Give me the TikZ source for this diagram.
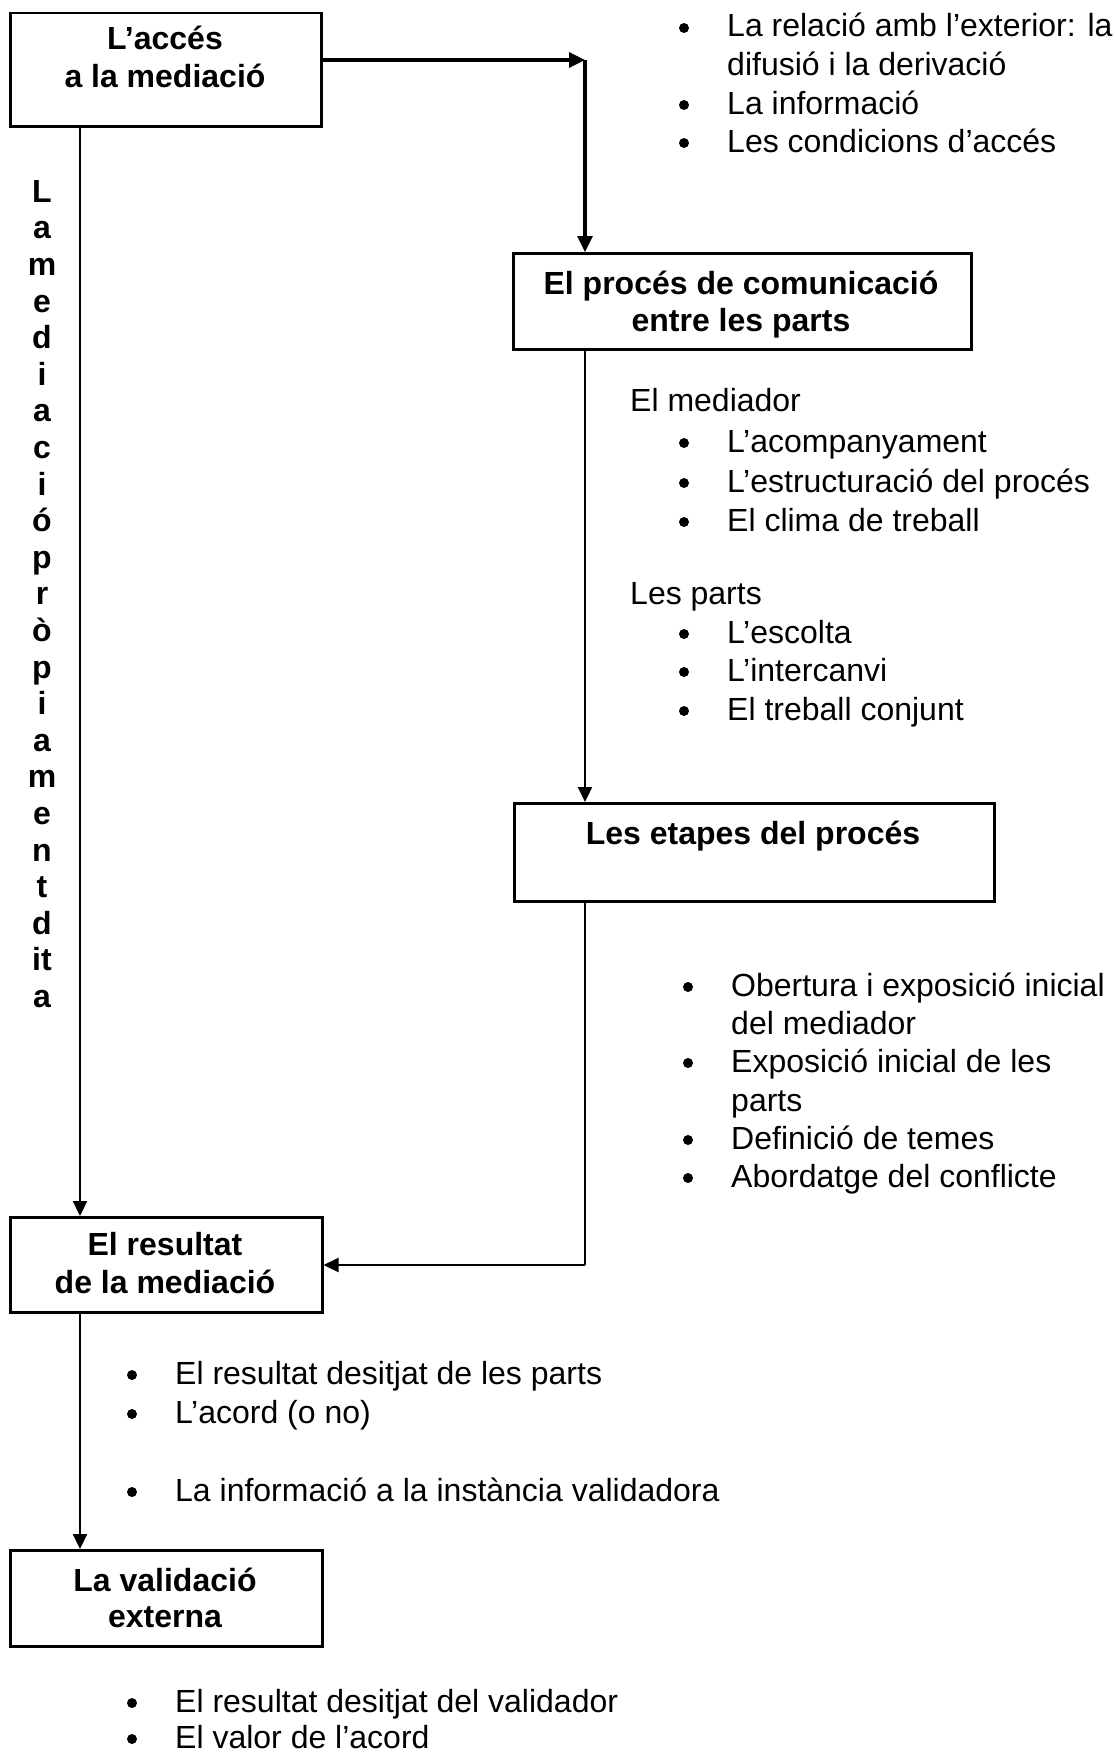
\documentclass[tikz,border=0pt]{standalone}
\usepackage{fontspec}
\setmainfont{Liberation Sans}
\usetikzlibrary{arrows.meta}
\begin{document}
\begin{tikzpicture}[x=1pt,y=-1pt,
  box/.style={draw, line width=2.5pt, inner sep=0pt, anchor=north west},
  ttl/.style={font=\fontsize{32}{37}\selectfont\bfseries, anchor=base, inner sep=0pt},
  txt/.style={font=\fontsize{32}{37}\selectfont, anchor=base west, inner sep=0pt},
  vtxt/.style={font=\fontsize{32}{36.6}\selectfont\bfseries, align=center, anchor=north, inner sep=0pt},
  arr/.style={line width=2.2pt, -{Triangle[length=15pt,width=14pt]}},
  thk/.style={line width=3.2pt, -{Triangle[length=16pt,width=15pt]}},
  conn/.style={line width=2.2pt},
]
\useasboundingbox (0,0) rectangle (1114,1753);

% boxes
\node[box, minimum width=311pt, minimum height=113pt] (b1) at (9,12) {};
\node[box, minimum width=458pt, minimum height=96pt] (b2) at (512,252) {};
\node[box, minimum width=480pt, minimum height=98pt] (b3) at (513,802) {};
\node[box, minimum width=312pt, minimum height=95pt] (b4) at (9,1216) {};
\node[box, minimum width=312pt, minimum height=96pt] (b5) at (9,1549) {};

% box titles
\node[ttl] (b1a) at (165,50) {L’accés};
\node[ttl] (b1b) at (165,87) {a la mediació};
\node[ttl] (b2a) at (741,294) {El procés de comunicació};
\node[ttl] (b2b) at (741,331) {entre les parts};
\node[ttl] (b3a) at (753,844) {Les etapes del procés};
\node[ttl] (b4a) at (165,1255) {El resultat};
\node[ttl] (b4b) at (165,1293) {de la mediació};
\node[ttl] (b5a) at (165,1591) {La validació};
\node[ttl] (b5b) at (165,1627) {externa};

% vertical label
\node[vtxt] (vl) at (42,180) {L\\a\\m\\e\\d\\i\\a\\c\\i\\ó\\p\\r\\ò\\p\\i\\a\\m\\e\\n\\t\\d\\it\\a};

% top list
\node[txt] (l1) at (727,37) {La relació amb l’exterior: la};
\node[txt] (l2) at (727,76) {difusió i la derivació};
\node[txt] (l3) at (727,114) {La informació};
\node[txt] (l4) at (727,152) {Les condicions d’accés};

% middle list
\node[txt] (m0) at (630,411) {El mediador};
\node[txt] (m1) at (727,452) {L’acompanyament};
\node[txt] (m2) at (727,492) {L’estructuració del procés};
\node[txt] (m3) at (727,531) {El clima de treball};
\node[txt] (p0) at (630,604) {Les parts};
\node[txt] (p1) at (727,643) {L’escolta};
\node[txt] (p2) at (727,681) {L’intercanvi};
\node[txt] (p3) at (727,720) {El treball conjunt};

% stages list
\node[txt] (e1) at (731,996) {Obertura i exposició inicial};
\node[txt] (e2) at (731,1034) {del mediador};
\node[txt] (e3) at (731,1072) {Exposició inicial de les};
\node[txt] (e4) at (731,1111) {parts};
\node[txt] (e5) at (731,1149) {Definició de temes};
\node[txt] (e6) at (731,1187) {Abordatge del conflicte};

% result list
\node[txt] (r1) at (175,1384) {El resultat desitjat de les parts};
\node[txt] (r2) at (175,1423) {L’acord (o no)};
\node[txt] (r3) at (175,1501) {La informació a la instància validadora};

% validation list
\node[txt] (v1) at (175,1712) {El resultat desitjat del validador};
\node[txt] (v2) at (175,1748) {El valor de l’acord};

% bullets
\foreach \n in {l1,l3,l4,m1,m2,m3,p1,p2,p3,e1,e3,e5,e6,r1,r2,r3,v1,v2}
  \fill ([xshift=-43pt,yshift=9pt]\n.base west) circle (5pt);

% connectors
\coordinate (c1) at (585,60);
\coordinate (c2) at (585,1265);
\coordinate (xl) at (80,0);
\draw[thk] (b1.east |- c1) -- (c1);
\draw[thk] (c1) -- (c1 |- b2.north);
\draw[arr] (c1 |- b2.south) -- (c1 |- b3.north);
\draw[conn] (c1 |- b3.south) -- (c2);
\draw[arr] (c2) -- (c2 -| b4.east);
\draw[arr] (b1.south -| xl) -- (b4.north -| xl);
\draw[arr] (b4.south -| xl) -- (b5.north -| xl);
\end{tikzpicture}
\end{document}
